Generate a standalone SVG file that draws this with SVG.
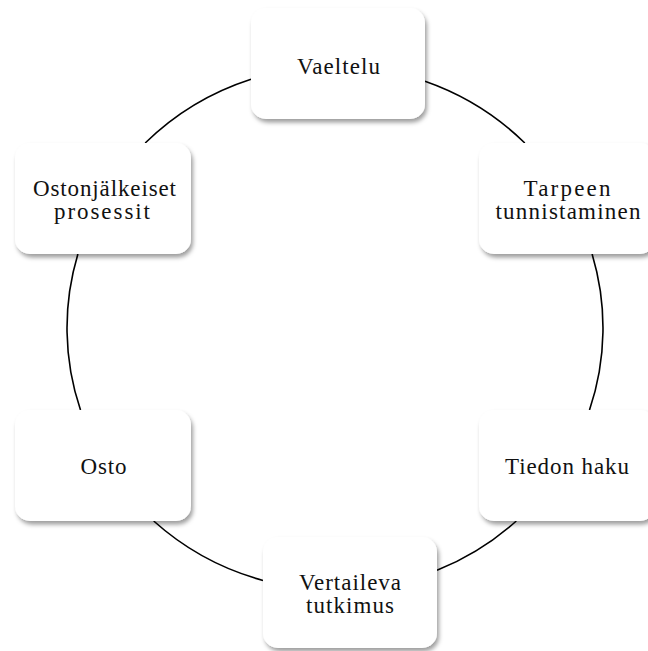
<svg xmlns="http://www.w3.org/2000/svg" width="648" height="651" viewBox="0 0 648 651">
<defs>
<filter id="sh" x="-10%" y="-10%" width="125%" height="130%">
<feDropShadow dx="2" dy="3.5" stdDeviation="2.2" flood-color="#000" flood-opacity="0.38"/>
</filter>
<style>
.box{fill:#fff;filter:url(#sh)}
.lbl{font-family:"Liberation Serif","DejaVu Serif",serif;font-size:23px;fill:#111;text-anchor:middle}
.arc{fill:none;stroke:#000;stroke-width:1.6}
</style>
</defs>
<rect width="648" height="651" fill="#fff"/>
<g id="connectors">
<path class="arc" d="M425,81.2 A268,262 0 0 1 524.8,143"/>
<path class="arc" d="M592.1,254 A268,262 0 0 1 589.5,410"/>
<path class="arc" d="M516.3,521 A268,262 0 0 1 437,570.3"/>
<path class="arc" d="M263,580.4 A268,262 0 0 1 153.7,521"/>
<path class="arc" d="M80.5,410 A268,262 0 0 1 77.9,254"/>
<path class="arc" d="M145.2,143 A268,262 0 0 1 251,79.2"/>
</g>
<g id="vaeltelu">
<rect class="box" x="251" y="8" width="174" height="111" rx="15"/>
<text class="lbl" x="338.5" y="74" textLength="83" lengthAdjust="spacing">Vaeltelu</text>
</g>
<g id="tarpeen">
<rect class="box" x="479" y="143" width="176" height="111" rx="15"/>
<text class="lbl" x="567" y="195.5" textLength="87" lengthAdjust="spacing">Tarpeen</text>
<text class="lbl" x="568" y="219" textLength="145" lengthAdjust="spacing">tunnistaminen</text>
</g>
<g id="tiedon">
<rect class="box" x="479" y="410" width="176" height="111" rx="15"/>
<text class="lbl" x="567" y="474" textLength="124" lengthAdjust="spacing">Tiedon haku</text>
</g>
<g id="vertaileva">
<rect class="box" x="263" y="537" width="174" height="111" rx="15"/>
<text class="lbl" x="350" y="589.5" textLength="102" lengthAdjust="spacing">Vertaileva</text>
<text class="lbl" x="350" y="613" textLength="88" lengthAdjust="spacing">tutkimus</text>
</g>
<g id="osto">
<rect class="box" x="15" y="410" width="176" height="111" rx="15"/>
<text class="lbl" x="103.5" y="474" textLength="46" lengthAdjust="spacing">Osto</text>
</g>
<g id="ostonjalkeiset">
<rect class="box" x="15" y="143" width="176" height="111" rx="15"/>
<text class="lbl" x="104.5" y="195.5" textLength="143" lengthAdjust="spacing">Ostonjälkeiset</text>
<text class="lbl" x="102" y="219" textLength="96" lengthAdjust="spacing">prosessit</text>
</g>
</svg>
